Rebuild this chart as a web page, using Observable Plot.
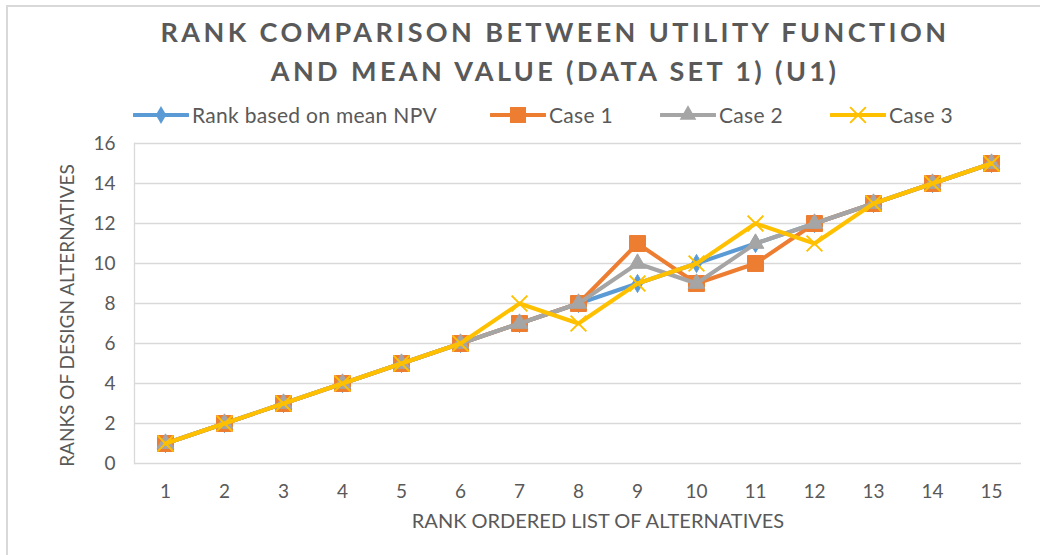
<!DOCTYPE html>
<html><head><meta charset="utf-8">
<script src="https://cdn.jsdelivr.net/npm/d3@7"></script>
<script src="https://cdn.jsdelivr.net/npm/@observablehq/plot@0.6"></script>
<style>
html,body{margin:0;padding:0;background:#fff;}
#chart{position:relative;width:1040px;height:555px;overflow:hidden;font-family:Lato,"Open Sans",sans-serif;color:#595959;}
#chart svg.main{position:absolute;left:0;top:0;}
#border{position:absolute;left:6px;top:5px;width:1200px;height:700px;border-left:2px solid #d9d9d9;border-top:2px solid #d9d9d9;}
#title{position:absolute;left:0;width:1110px;top:12px;text-align:center;font-weight:bold;font-size:27px;letter-spacing:3.4px;line-height:39px;color:#595959;}
#legend{position:absolute;left:133px;top:102px;display:flex;gap:0;font-size:21px;letter-spacing:0.3px;align-items:center;}
.item{display:flex;align-items:center;gap:3px;}
</style></head>
<body>
<div id="chart">
<div id="border"></div>
<div id="plot"></div>
<div id="title">RANK COMPARISON BETWEEN UTILITY FUNCTION<br>AND MEAN VALUE (DATA SET 1) (U1)</div>
<div id="legend"></div>
</div>
<script>
// ---- data ----
const categories = ["1","2","3","4","5","6","7","8","9","10","11","12","13","14","15"];
const meanNPV = [1,2,3,4,5,6,7,8,9,10,11,12,13,14,15];
const case1   = [1,2,3,4,5,6,7,8,11,9,10,12,13,14,15];
const case2   = [1,2,3,4,5,6,7,8,10,9,11,12,13,14,15];
const case3   = [1,2,3,4,5,6,8,7,9,10,12,11,13,14,15];
const seriesNames  = ["Rank based on mean NPV","Case 1","Case 2","Case 3"];
const seriesValues = [meanNPV, case1, case2, case3];
const seriesColors = ["#5B9BD5","#ED7D31","#A5A5A5","#FFC000"];
const seriesSymbols = ["diamond","square","triangle","times"];
const seriesR = [5.5, 9, 6.2, 7.2];
const yTicks = [0,2,4,6,8,10,12,14,16];
const xTitle = "RANK ORDERED LIST OF ALTERNATIVES";
const yTitle = "RANKS OF DESIGN ALTERNATIVES";
const legendWidths = [357, 170, 170, 130];

const rows = seriesNames.flatMap((s, i) => categories.map((c, j) => ({series: s, x: c, y: seriesValues[i][j]})));

const marks = [
  Plot.gridY(yTicks, {stroke: "#d9d9d9", strokeOpacity: 1, strokeWidth: 1.3}),
  Plot.frame({anchor: "left", stroke: "#d9d9d9", strokeWidth: 1.3}),
  Plot.axisY(yTicks, {tickSize: 0, tickPadding: 19, fontSize: 19, label: null}),
  Plot.axisX({tickSize: 0, tickPadding: 21, fontSize: 19, label: null}),
  Plot.text([xTitle], {frameAnchor: "bottom", dy: 64, dx: 20, fontSize: 20, fill: "#595959", style: "letter-spacing:0.35px"}),
  Plot.text([yTitle], {frameAnchor: "left", textAnchor: "middle", rotate: -90, dx: -67, dy: 12, fontSize: 19, fill: "#595959"})
];
seriesNames.forEach((s, i) => {
  const d = rows.filter(r => r.series === s);
  marks.push(Plot.line(d, {x: "x", y: "y", stroke: "series", strokeWidth: 4, strokeLinejoin: "round", strokeLinecap: "round"}));
  if (seriesSymbols[i] === "times") {
    marks.push(Plot.dot(d, {x: "x", y: "y", symbol: seriesSymbols[i], r: seriesR[i], stroke: "series", strokeWidth: 2}));
  } else {
    marks.push(Plot.dot(d, {x: "x", y: "y", symbol: seriesSymbols[i], r: seriesR[i], fill: "series", stroke: "series", strokeWidth: 1}));
  }
});

const chart = Plot.plot({
  width: 1040,
  height: 555,
  marginLeft: 134,
  marginRight: 19,
  marginTop: 143,
  marginBottom: 92,
  style: {fontFamily: "Lato, 'Open Sans', sans-serif", color: "#595959", background: "transparent", overflow: "visible"},
  x: {type: "point", domain: categories, padding: 0.5},
  y: {domain: [0, 16]},
  color: {domain: seriesNames, range: seriesColors},
  marks
});
chart.classList.add("main");
document.getElementById("plot").appendChild(chart);

// legend
const legend = document.getElementById("legend");
seriesNames.forEach((s, i) => {
  const item = document.createElement("div");
  item.className = "item";
  item.style.width = legendWidths[i] + "px";
  const svg = d3.create("svg").attr("width", 56).attr("height", 22);
  svg.append("line").attr("x1", 1).attr("x2", 55).attr("y1", 11).attr("y2", 11)
    .attr("stroke", seriesColors[i]).attr("stroke-width", 4).attr("stroke-linecap", "round");
  const sym = {diamond: d3.symbolDiamond, square: d3.symbolSquare, triangle: d3.symbolTriangle, times: d3.symbolTimes}[seriesSymbols[i]];
  const path = svg.append("path").attr("transform", "translate(28,11)")
    .attr("d", d3.symbol(sym, Math.PI * seriesR[i] * seriesR[i])());
  if (seriesSymbols[i] === "times") path.attr("fill", "none").attr("stroke", seriesColors[i]).attr("stroke-width", 2);
  else path.attr("fill", seriesColors[i]);
  item.appendChild(svg.node());
  const t = document.createElement("span");
  t.textContent = s;
  item.appendChild(t);
  legend.appendChild(item);
});
</script>
</body></html>
